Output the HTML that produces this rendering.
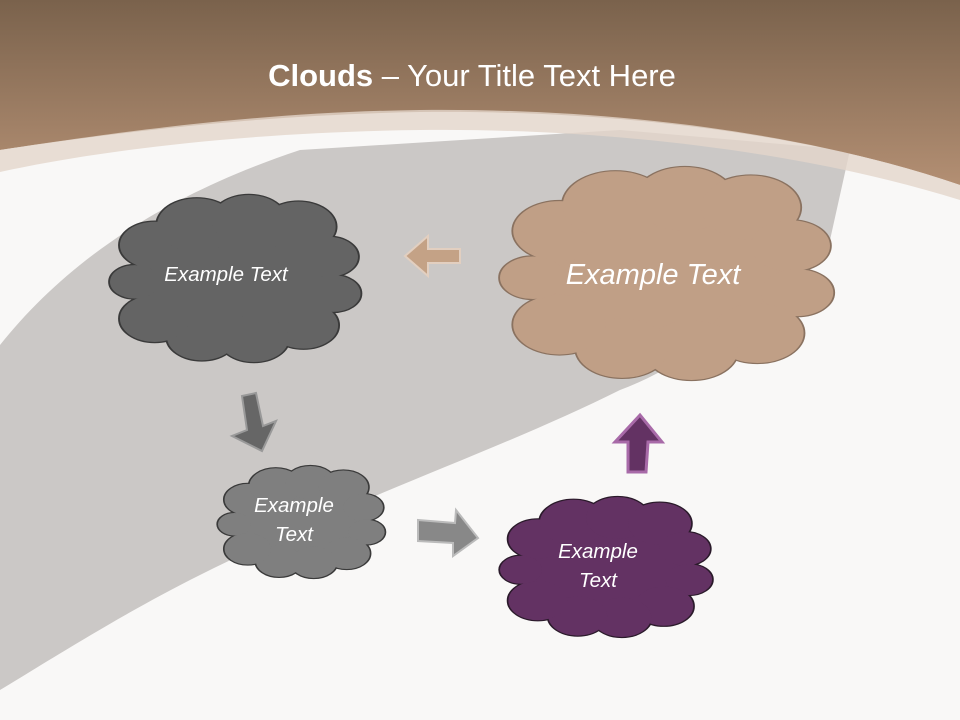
<!DOCTYPE html>
<html><head><meta charset="utf-8"><style>
html,body{margin:0;padding:0;width:960px;height:720px;overflow:hidden;background:#f9f8f7}
svg{display:block}
text{font-family:"Liberation Sans",sans-serif;fill:#fff}
</style></head><body>
<svg width="960" height="720" viewBox="0 0 960 720" xmlns="http://www.w3.org/2000/svg">
<defs>
<linearGradient id="top" x1="0" y1="0" x2="0" y2="1">
<stop offset="0" stop-color="#7a624c"/><stop offset="1" stop-color="#b38f73"/></linearGradient>
<g id="cl">
<ellipse cx="50" cy="50" rx="40" ry="36"/>
<circle cx="18" cy="30" r="14"/><circle cx="35" cy="18" r="16"/><circle cx="56" cy="15" r="15"/>
<circle cx="76" cy="19" r="15"/><circle cx="88" cy="37" r="12"/><circle cx="90" cy="59" r="11"/>
<circle cx="78" cy="78" r="14"/><circle cx="58" cy="86" r="14"/><circle cx="37" cy="85" r="14"/>
<circle cx="18" cy="74" r="14"/><circle cx="10" cy="52" r="10"/>
</g>
</defs>
<rect width="960" height="720" fill="#f9f8f7"/>
<path d="M0,345 C60,270 150,200 300,150 L620,130 L850,150 L830,240 C760,300 700,360 620,390 C500,450 350,500 200,575 C120,615 50,660 0,690 Z" fill="#cbc8c6"/>
<path d="M0,0 H960 V185 C800,130 600,110 420,112 C250,115 100,135 0,150 Z" fill="url(#top)"/>
<path d="M0,150 C100,135 250,112 420,110 C600,108 800,130 960,185 V200 C800,150 600,128 420,130 C250,132 100,150 0,172 Z" fill="#e4d6cb" opacity="0.8"/>
<text x="472" y="86" text-anchor="middle" font-size="31"><tspan font-weight="bold">Clouds</tspan> – Your Title Text Here</text>

<g transform="translate(110,195) scale(2.48,1.67)">
<use href="#cl" fill="#3a3a3a" stroke="#3a3a3a" style="stroke-width:1.5"/>
<use href="#cl" fill="#646464"/></g>
<g transform="translate(500,167) scale(3.3,2.13)">
<use href="#cl" fill="#8a7260" stroke="#8a7260" style="stroke-width:1.1"/>
<use href="#cl" fill="#c09f86"/></g>
<g transform="translate(218,466) scale(1.65,1.12)">
<use href="#cl" fill="#3a3a3a" stroke="#3a3a3a" style="stroke-width:2"/>
<use href="#cl" fill="#7f7f7f"/></g>
<g transform="translate(500,497) scale(2.1,1.4)">
<use href="#cl" fill="#2a1a2a" stroke="#2a1a2a" style="stroke-width:1.6"/>
<use href="#cl" fill="#633263"/></g>

<text x="226" y="281" text-anchor="middle" font-size="20.5" font-style="italic">Example Text</text>
<text x="653" y="284" text-anchor="middle" font-size="29" font-style="italic">Example Text</text>
<text x="294" y="512" text-anchor="middle" font-size="20.5" font-style="italic">Example</text>
<text x="294" y="541" text-anchor="middle" font-size="20.5" font-style="italic">Text</text>
<text x="598" y="558" text-anchor="middle" font-size="20.5" font-style="italic">Example</text>
<text x="598" y="587" text-anchor="middle" font-size="20.5" font-style="italic">Text</text>

<polygon points="405,256 428,236 428,249 460,249 460,263 428,263 428,276" fill="#c4a286" stroke="#e2cfc0" stroke-width="2"/>
<polygon points="242,396 256,393 263,426 276,421 262,451 232,436 247,430" fill="#666" stroke="#999" stroke-width="2"/>
<polygon points="418,520 455,523 456,510 478,538 453,556 453,543 418,541" fill="#888" stroke="#bbb" stroke-width="2"/>
<polygon points="628,472 628,442 615,442 640,415 662,442 648,442 646,472" fill="#633263" stroke="#a86aa8" stroke-width="3"/>
</svg>
</body></html>
